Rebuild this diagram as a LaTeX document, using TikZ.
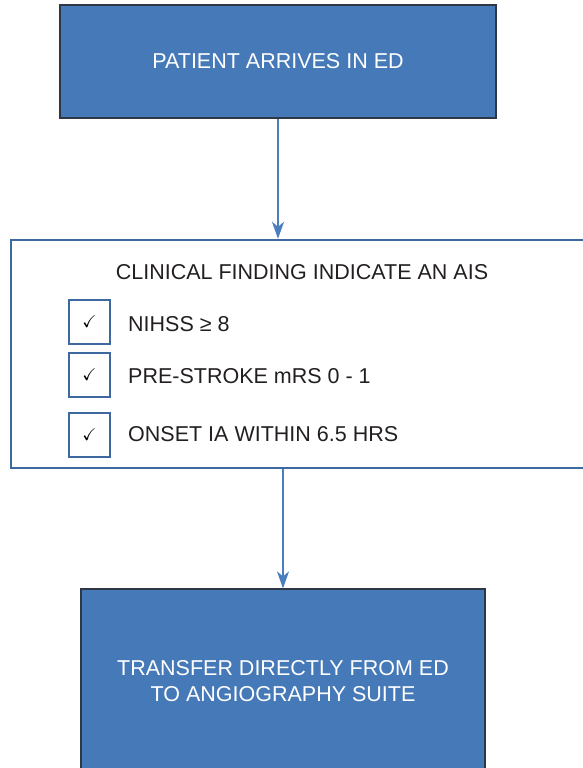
\documentclass[tikz,border=0pt]{standalone}
\usepackage{amssymb}
\usepackage{fontspec}
\setmainfont{Liberation Sans}
\usetikzlibrary{arrows.meta}

\definecolor{boxblue}{RGB}{70,121,184}
\definecolor{edgedark}{RGB}{45,55,70}
\definecolor{frameblue}{RGB}{62,104,160}
\definecolor{arrowblue}{RGB}{74,126,191}
\definecolor{inktext}{RGB}{35,31,32}

\begin{document}
\begin{tikzpicture}[>={Stealth[length=17pt, width=12pt, inset=5pt]}, x=1pt, y=-1pt,
  stage/.style={draw=edgedark, line width=1.2pt, fill=boxblue, text=white,
    font=\fontsize{21.5}{26}\selectfont, align=center, inner sep=0pt},
  tickbox/.style={draw=frameblue, line width=1.1pt, minimum width=41pt,
    minimum height=44pt, inner sep=0pt, text=black, font=\fontsize{17}{20}\selectfont},
  item/.style={anchor=west, text=inktext, font=\fontsize{21.5}{26}\selectfont, inner sep=0pt},
  flow/.style={->, arrowblue, line width=1.3pt}]
  \useasboundingbox (0,0) rectangle (582,768);

  % first step
  \node[stage, minimum width=436pt, minimum height=113pt] (arrive) at (278,61.5)
    {PATIENT ARRIVES IN ED};

  % checklist frame
  \node[draw=frameblue, line width=2.4pt, minimum width=589pt, minimum height=228pt,
    inner sep=0pt] (findings) at (305.5,354) {};
  \node[text=inktext, font=\fontsize{21.5}{26}\selectfont, inner sep=0pt] (title) at (302,272)
    {CLINICAL FINDING INDICATE AN AIS};

  \node[tickbox] (c1) at (89.5,322) {$\checkmark$};
  \node[tickbox] (c2) at (89.5,375) {$\checkmark$};
  \node[tickbox] (c3) at (89.5,435) {$\checkmark$};
  \node[item] (i1) at (128,324) {NIHSS ≥ 8};
  \node[item] (i2) at (128,376) {PRE-STROKE mRS 0 - 1};
  \node[item] (i3) at (128,434) {ONSET IA WITHIN 6.5 HRS};

  % last step
  \node[stage, minimum width=404pt, minimum height=184pt] (transfer) at (283,681)
    {TRANSFER DIRECTLY FROM ED\\TO ANGIOGRAPHY SUITE};

  \draw[flow] (arrive.south) -- (arrive.south |- findings.north);
  \draw[flow] (transfer.north |- findings.south) -- (transfer.north);
\end{tikzpicture}
\end{document}
